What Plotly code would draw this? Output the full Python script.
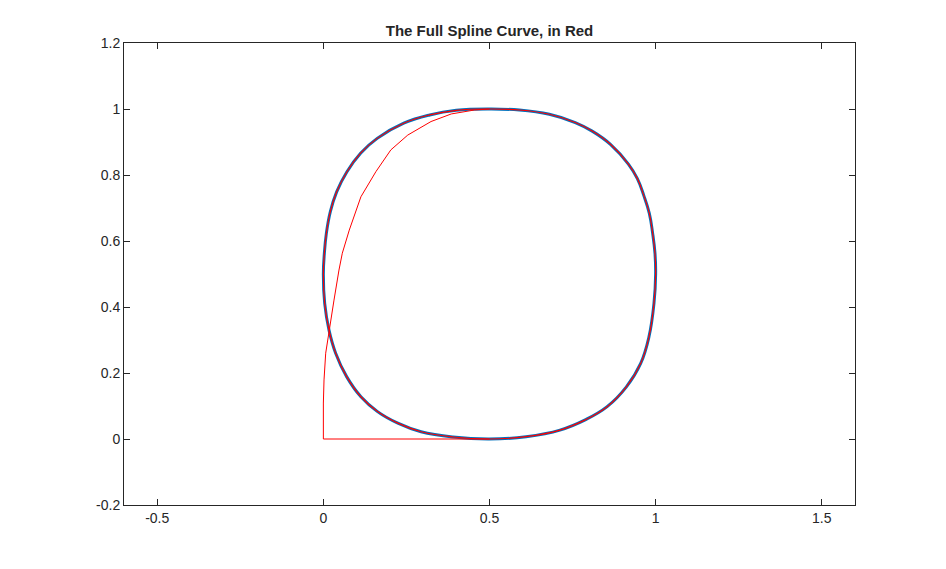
import plotly.graph_objects as go

# Closed curve (counter-clockwise from bottom middle)
curve_x = [0.5, 0.610, 0.712, 0.788, 0.854, 0.912, 0.955, 0.980, 0.995, 1.0,
           0.998, 0.991, 0.981, 0.964, 0.945, 0.918, 0.864, 0.809, 0.758, 0.680, 0.590,
           0.5, 0.400, 0.320, 0.242, 0.162, 0.112, 0.071, 0.040, 0.021, 0.009,
           0.003, 0.0, 0.004, 0.017, 0.037, 0.070, 0.113, 0.163, 0.224,
           0.294, 0.390, 0.5]
curve_y = [0.0, 0.007, 0.027, 0.058, 0.098, 0.158, 0.229, 0.310, 0.411, 0.5,
           0.563, 0.623, 0.684, 0.739, 0.789, 0.833, 0.893, 0.933, 0.959, 0.984, 0.997,
           1.0, 0.996, 0.982, 0.957, 0.911, 0.866, 0.810, 0.749, 0.689, 0.623,
           0.563, 0.5, 0.411, 0.330, 0.260, 0.189, 0.128, 0.083, 0.048,
           0.022, 0.006, 0.0]

# Inner red polyline
inner_x = [0.5, 0.0, 0.0, 0.002, 0.007, 0.017, 0.032, 0.047, 0.057, 0.078,
           0.113, 0.158, 0.203, 0.254, 0.324, 0.385, 0.455, 0.5]
inner_y = [0.0, 0.0, 0.109, 0.179, 0.260, 0.330, 0.421, 0.512, 0.563, 0.633,
           0.734, 0.810, 0.876, 0.921, 0.962, 0.985, 0.997, 1.0]

x_ticks = [-0.5, 0, 0.5, 1, 1.5]
x_labels = ["-0.5", "0", "0.5", "1", "1.5"]
y_ticks = [-0.2, 0, 0.2, 0.4, 0.6, 0.8, 1, 1.2]
y_labels = ["-0.2", "0", "0.2", "0.4", "0.6", "0.8", "1", "1.2"]

fig = go.Figure()
fig.add_trace(go.Scatter(x=curve_x, y=curve_y, mode="lines",
                         line=dict(color="#0072BD", width=3, shape="spline", smoothing=1.2),
                         showlegend=False, hoverinfo="skip"))
fig.add_trace(go.Scatter(x=curve_x, y=curve_y, mode="lines",
                         line=dict(color="#FF0000", width=1.2, shape="spline", smoothing=1.2),
                         showlegend=False, hoverinfo="skip"))
fig.add_trace(go.Scatter(x=inner_x, y=inner_y, mode="lines",
                         line=dict(color="#FF0000", width=1),
                         showlegend=False, hoverinfo="skip"))

axis_common = dict(showgrid=False, zeroline=False, showline=True, mirror="allticks",
                   linecolor="#262626", linewidth=1, ticks="inside", ticklen=6,
                   tickcolor="#262626", tickfont=dict(family="Liberation Sans, Arial", size=14, color="#262626"))

fig.update_layout(
    width=938, height=561,
    margin=dict(l=116, r=91, t=35, b=64),
    paper_bgcolor="white", plot_bgcolor="white",
    title=dict(text="<b>The Full Spline Curve, in Red</b>", x=0.5, xref="paper",
               y=1 - 23 / 561, yref="container", yanchor="middle",
               font=dict(family="Liberation Sans, Arial", size=15, color="#262626")),
    xaxis=dict(range=[-0.6, 1.6], tickvals=x_ticks, ticktext=x_labels, **axis_common),
    yaxis=dict(range=[-0.2, 1.2], tickvals=y_ticks, ticktext=y_labels, **axis_common),
)

fig.write_html("out.html")
